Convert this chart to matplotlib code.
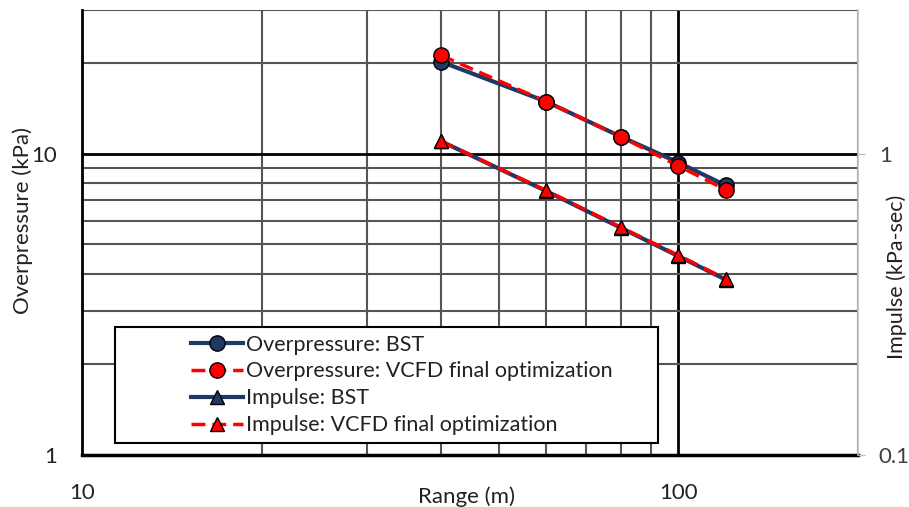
import matplotlib.pyplot as plt
from matplotlib.patches import Rectangle
from matplotlib.ticker import FixedLocator, NullFormatter, NullLocator

plt.rcParams['font.family'] = ['Lato', 'DejaVu Sans']

range_m = [40, 60, 80, 100, 120]
op_bst = [20.2, 14.9, 11.4, 9.35, 7.85]
op_vcfd = [21.2, 14.9, 11.4, 9.1, 7.6]
imp_bst = [1.10, 0.752, 0.568, 0.457, 0.382]
imp_vcfd = [1.10, 0.755, 0.570, 0.460, 0.384]

navy = '#1f3864'
red = '#ff0000'

fig = plt.figure(figsize=(9.09, 5.07), dpi=100)
ax = fig.add_axes([0.0902, 0.1026, 0.8537, 0.8777])
ax2 = ax.twinx()

ax.set_xscale('log')
ax.set_yscale('log')
ax2.set_yscale('log')
ax.set_xlim(10, 200)
ax.set_ylim(1, 30)
ax2.set_ylim(0.1, 3)

# grid: minor lines dark gray, decades black
for v in [20, 30, 40, 50, 60, 70, 80, 90, 200]:
    ax.axvline(v, color='#555555', lw=1.5, zorder=1)
ax.axvline(100, color='black', lw=2, zorder=1)
for v in [2, 3, 4, 5, 6, 7, 8, 9, 20, 30]:
    ax.axhline(v, color='#555555', lw=1.5, zorder=1)
ax.axhline(10, color='black', lw=2, zorder=1)

ax.xaxis.set_major_locator(FixedLocator([10, 100]))
ax.xaxis.set_minor_locator(NullLocator())
ax.xaxis.set_major_formatter(plt.FuncFormatter(lambda v, p: f'{v:g}'))
ax.yaxis.set_major_locator(FixedLocator([1, 10]))
ax.yaxis.set_minor_locator(NullLocator())
ax.yaxis.set_major_formatter(plt.FuncFormatter(lambda v, p: f'{v:g}'))
ax.tick_params(axis='both', length=0, labelsize=16, colors='#222222')
ax.tick_params(axis='x', pad=20)
ax.tick_params(axis='y', pad=18)

ax2.yaxis.set_major_locator(FixedLocator([0.1, 1]))
ax2.yaxis.set_minor_locator(NullLocator())
ax2.yaxis.set_minor_formatter(NullFormatter())
ax2.yaxis.set_major_formatter(plt.FuncFormatter(lambda v, p: f'{v:g}'))
ax2.tick_params(axis='y', length=5, width=1, color='#bfbfbf', labelsize=16,
                labelcolor='#404040', pad=10)

ax.spines['top'].set_visible(False)
ax2.spines['top'].set_visible(False)
ax.spines['left'].set_linewidth(2)
ax.spines['bottom'].set_linewidth(2.5)
ax.spines['right'].set_visible(False)
ax2.spines['left'].set_visible(False)
ax2.spines['bottom'].set_visible(False)
ax2.spines['right'].set_color('#bfbfbf')
ax2.spines['right'].set_linewidth(1.2)

ax.set_ylabel('Overpressure (kPa)', fontsize=16, color='#222222')
ax.yaxis.set_label_coords(-0.063, 0.526)
ax.set_xlabel('Range (m)', fontsize=16, color='#222222')
ax.xaxis.set_label_coords(0.495, -0.07)
ax2.set_ylabel('Impulse (kPa-sec)', fontsize=15.5, color='#222222')
ax2.yaxis.set_label_coords(1.036, 0.40)

dash = (0, (4, 2))
l1, = ax.plot(range_m, op_bst, color=navy, lw=3, marker='o', ms=11,
              mfc=navy, mec='black', mew=1, zorder=3)
l2, = ax.plot(range_m, op_vcfd, color=red, lw=2.5, ls=dash, marker='o', ms=11,
              mfc=red, mec='black', mew=1, zorder=4)
l3, = ax2.plot(range_m, imp_bst, color=navy, lw=3, marker='^', ms=10,
               mfc=navy, mec='black', mew=1, zorder=3)
l4, = ax2.plot(range_m, imp_vcfd, color=red, lw=2.5, ls=dash, marker='^', ms=10,
               mfc=red, mec='black', mew=1, zorder=4)

# legend box
box = Rectangle((0.0425, 0.027), 0.70, 0.261, transform=ax2.transAxes,
                facecolor='white', edgecolor='black', lw=1.5, zorder=5)
ax2.add_patch(box)
leg = ax2.legend([l1, l2, l3, l4],
                 ['Overpressure: BST', 'Overpressure: VCFD final optimization',
                  'Impulse: BST', 'Impulse: VCFD final optimization'],
                 loc='upper left', bbox_to_anchor=(0.13, 0.29), frameon=False,
                 fontsize=15.5, handlelength=2.4, handletextpad=0.15, labelspacing=0.32,
                 borderaxespad=0)
leg.set_zorder(6)
for t in leg.get_texts():
    t.set_color('#222222')

fig.savefig('out.png', dpi=100)
